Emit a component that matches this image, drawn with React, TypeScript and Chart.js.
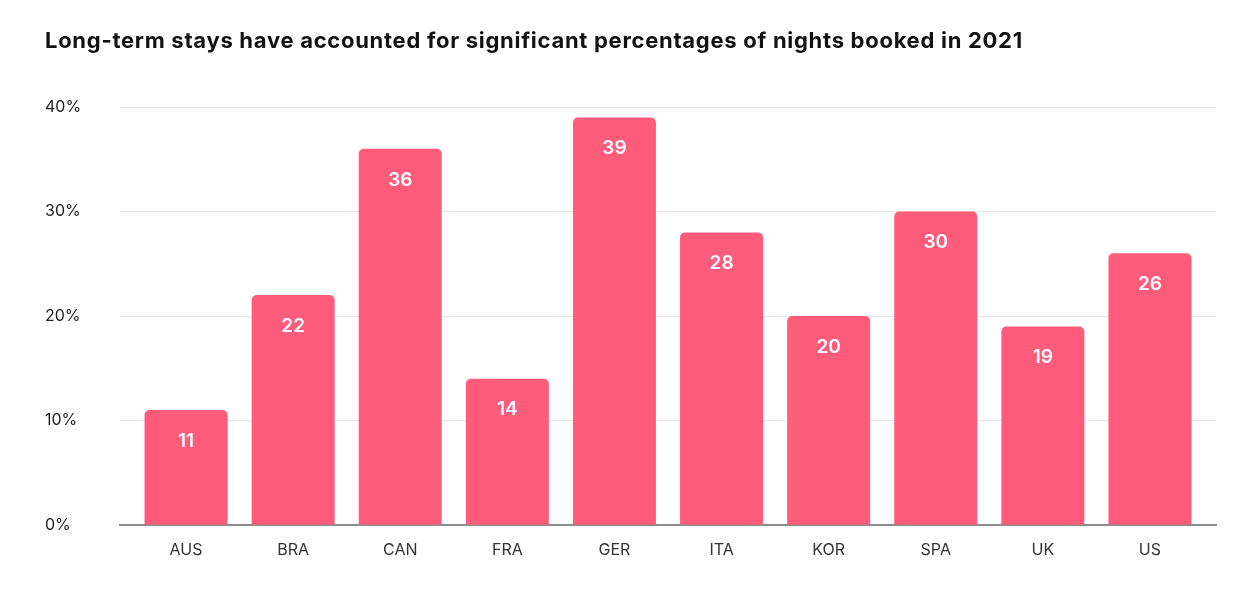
import React, { useEffect, useRef } from "react";
import { Chart, registerables } from "chart.js";

Chart.register(...registerables);

const TITLE = "Long-term stays have accounted for significant percentages of nights booked in 2021";
const categories = ["AUS", "BRA", "CAN", "FRA", "GER", "ITA", "KOR", "SPA", "UK", "US"];
const values = [11, 22, 36, 14, 39, 28, 20, 30, 19, 26];
const yTicks = [0, 10, 20, 30, 40];

const BAR_COLOR = "#FF5C7C";
const FONT = "Inter, 'Noto Sans', sans-serif";

const insetPlugin = {
  id: "xInset",
  afterLayout(chart: any) {
    const x = chart.scales.x;
    const inset = 12.5;
    x._startPixel += inset;
    x._endPixel -= inset;
    x._length -= inset * 2;
  },
};

const valueLabels = {
  id: "valueLabels",
  afterDatasetsDraw(chart: any) {
    const ctx = chart.ctx;
    const meta = chart.getDatasetMeta(0);
    ctx.save();
    ctx.fillStyle = "#ffffff";
    ctx.font = `600 19px ${FONT}`;
    ctx.textAlign = "center";
    ctx.textBaseline = "middle";
    meta.data.forEach((bar: any, i: number) => {
      ctx.fillText(String(values[i]), bar.x, bar.y + 31);
    });
    ctx.restore();
  },
};

export default function App() {
  const ref = useRef<HTMLCanvasElement | null>(null);

  useEffect(() => {
    if (!ref.current) return;
    const chart = new Chart(ref.current, {
      type: "bar",
      data: {
        labels: categories,
        datasets: [
          {
            data: values,
            backgroundColor: BAR_COLOR,
            borderRadius: { topLeft: 5, topRight: 5, bottomLeft: 0, bottomRight: 0 },
            borderSkipped: false,
            barPercentage: 0.775,
            categoryPercentage: 1,
          },
        ],
      },
      options: {
        animation: false,
        responsive: false,
        maintainAspectRatio: false,
        layout: { padding: { left: 45, right: 39, top: 107, bottom: 0 } },
        plugins: {
          legend: { display: false },
          tooltip: { enabled: false },
          title: { display: false },
        },
        scales: {
          x: {
            grid: { display: false, drawTicks: false },
            border: { display: true, color: "#8c8c8c", width: 2 },
            ticks: {
              color: "#333333",
              font: { family: FONT, size: 16 },
              padding: 16,
            },
            afterFit(scale: any) {
              scale.height = 68;
            },
          },
          y: {
            min: 0,
            max: 40,
            afterBuildTicks(scale: any) {
              scale.ticks = yTicks.map((v) => ({ value: v }));
            },
            grid: { color: "#e6e6e6", lineWidth: 1, drawTicks: false },
            border: { display: false },
            ticks: {
              color: "#222222",
              font: { family: FONT, size: 16 },
              crossAlign: "far",
              callback: (v: any) => `${v}%`,
            },
            afterFit(scale: any) {
              scale.width = 75;
            },
          },
        },
      },
      plugins: [insetPlugin, valueLabels],
    });
    return () => chart.destroy();
  }, []);

  return (
    <div
      style={{
        position: "fixed",
        left: 0,
        top: 0,
        width: 1255,
        height: 593,
        background: "#ffffff",
        overflow: "hidden",
      }}
    >
      <div
        style={{
          position: "absolute",
          left: 45,
          top: 28,
          fontFamily: FONT,
          fontWeight: 700,
          fontSize: 22,
          lineHeight: "24px",
          color: "#111111",
          whiteSpace: "nowrap",
          letterSpacing: "0.72px",
        }}
      >
        {TITLE}
      </div>
      <canvas ref={ref} width={1255} height={593} style={{ display: "block" }} />
    </div>
  );
}
